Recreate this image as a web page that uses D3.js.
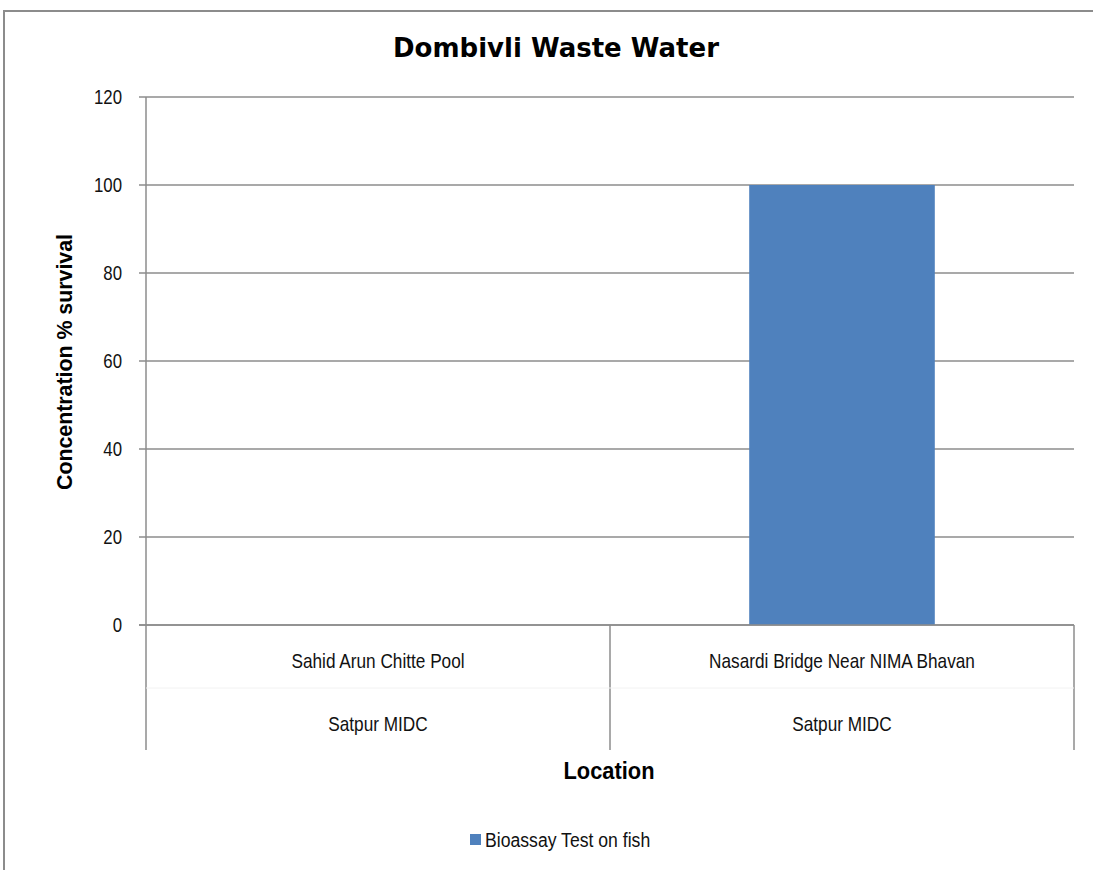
<!DOCTYPE html>
<html>
<head>
<meta charset="utf-8">
<script src="https://cdn.jsdelivr.net/npm/d3@7"></script>
<style>
  html, body { margin: 0; padding: 0; background: #fff; }
  svg { display: block; }
</style>
</head>
<body>
<div id="chart"></div>
<script>
// Survival data for the bioassay test, one value per sampling location
const locations = ["Sahid Arun Chitte Pool", "Nasardi Bridge Near NIMA Bhavan"];
const areas = ["Satpur MIDC", "Satpur MIDC"];
const survival = [0, 100];
const yTicks = [0, 20, 40, 60, 80, 100, 120];
const seriesName = "Bioassay Test on fish";

const W = 1093, H = 870;
const margin = { left: 146, right: 1093 - 1074, top: 97, bottom: 870 - 625 };
const gray = "#8c8c8c";
const barColor = "#4f81bd";
const labelFont = "'Liberation Sans', Arial, sans-serif";

const svg = d3.select("#chart").append("svg")
  .attr("width", W).attr("height", H);

// chart frame
svg.append("rect")
  .attr("x", 4).attr("y", 11)
  .attr("width", W + 10).attr("height", H + 10)
  .attr("fill", "none").attr("stroke", gray).attr("stroke-width", 2);

const x = d3.scaleBand()
  .domain(locations)
  .range([margin.left, W - margin.right])
  .paddingInner(0).paddingOuter(0);

const y = d3.scaleLinear()
  .domain([0, 120])
  .range([H - margin.bottom, margin.top]);

// condensed text helper: places a label and squeezes it horizontally
function narrowText(sel, px, py, sx) {
  return sel.attr("transform", `translate(${px},${py}) scale(${sx},1)`);
}

// gridlines with short tick stubs on the left
svg.append("g")
  .selectAll("line")
  .data(yTicks)
  .join("line")
  .attr("x1", margin.left - 7)
  .attr("x2", W - margin.right)
  .attr("y1", d => y(d)).attr("y2", d => y(d))
  .attr("stroke", gray).attr("stroke-width", 1.3);

// y tick labels
svg.append("g").selectAll("text")
  .data(yTicks)
  .join("text")
  .each(function (d) { narrowText(d3.select(this), 122, y(d), 0.8); })
  .attr("dy", "0.35em")
  .attr("text-anchor", "end")
  .attr("font-family", labelFont).attr("font-size", 21).attr("fill", "#111")
  .text(d => d3.format("d")(d));

// left axis line, extending down through the category label area
const axisBottom = 750;
svg.append("line")
  .attr("x1", margin.left).attr("x2", margin.left)
  .attr("y1", y(120)).attr("y2", axisBottom)
  .attr("stroke", gray).attr("stroke-width", 1.5);

// category dividers
const dividers = locations.map(d => x(d) + x.bandwidth());
svg.append("g").selectAll("line")
  .data(dividers)
  .join("line")
  .attr("x1", d => d).attr("x2", d => d)
  .attr("y1", y(0)).attr("y2", axisBottom)
  .attr("stroke", gray).attr("stroke-width", 1.5);

// faint separator between label levels
svg.append("line")
  .attr("x1", margin.left).attr("x2", W - margin.right)
  .attr("y1", 688).attr("y2", 688)
  .attr("stroke", "#f2f2f2").attr("stroke-width", 1);

// bars
const barW = x.bandwidth() * 0.4;
svg.append("g").selectAll("rect")
  .data(survival)
  .join("rect")
  .attr("x", (d, i) => x(locations[i]) + (x.bandwidth() - barW) / 2)
  .attr("y", d => y(d))
  .attr("width", barW)
  .attr("height", d => y(0) - y(d))
  .attr("fill", barColor);

// zero line drawn over the bars
svg.append("line")
  .attr("x1", margin.left - 7).attr("x2", W - margin.right)
  .attr("y1", y(0)).attr("y2", y(0))
  .attr("stroke", gray).attr("stroke-width", 1.5);

// category labels (two levels)
svg.append("g").selectAll("text")
  .data(locations)
  .join("text")
  .each(function (d) { narrowText(d3.select(this), x(d) + x.bandwidth() / 2, 668, 0.82); })
  .attr("text-anchor", "middle")
  .attr("font-family", labelFont).attr("font-size", 21).attr("fill", "#111")
  .text(d => d);

svg.append("g").selectAll("text")
  .data(areas)
  .join("text")
  .each(function (d, i) { narrowText(d3.select(this), x(locations[i]) + x.bandwidth() / 2, 731, 0.82); })
  .attr("text-anchor", "middle")
  .attr("font-family", labelFont).attr("font-size", 21).attr("fill", "#111")
  .text(d => d);

// title
svg.append("text")
  .attr("x", 556).attr("y", 57)
  .attr("text-anchor", "middle")
  .attr("font-family", "'DejaVu Sans', Verdana, sans-serif")
  .attr("font-weight", "bold").attr("font-size", 26).attr("fill", "#000")
  .text("Dombivli Waste Water");

// axis titles
svg.append("text")
  .attr("transform", "translate(72,362) rotate(-90) scale(0.97,1)")
  .attr("text-anchor", "middle")
  .attr("font-family", labelFont)
  .attr("font-weight", "bold").attr("font-size", 22).attr("fill", "#000")
  .text("Concentration % survival");

svg.append("text")
  .attr("transform", "translate(609,779) scale(0.95,1)")
  .attr("text-anchor", "middle")
  .attr("font-family", labelFont)
  .attr("font-weight", "bold").attr("font-size", 23).attr("fill", "#000")
  .text("Location");

// legend
const legend = svg.append("g").attr("transform", "translate(470,834)");
legend.append("rect")
  .attr("width", 11).attr("height", 11)
  .attr("fill", barColor);
legend.append("text")
  .attr("transform", "translate(15,13) scale(0.84,1)")
  .attr("font-family", labelFont).attr("font-size", 21).attr("fill", "#111")
  .text(seriesName);
</script>
</body>
</html>
